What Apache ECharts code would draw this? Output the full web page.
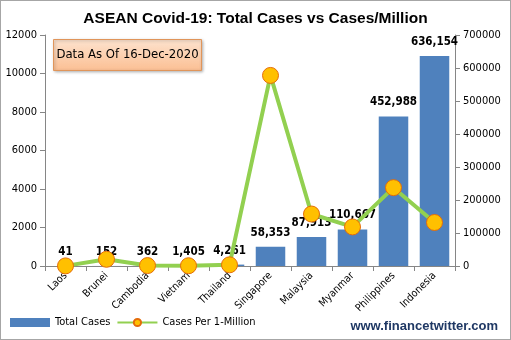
<!DOCTYPE html>
<html><head><meta charset="utf-8">
<script src="https://cdn.jsdelivr.net/npm/echarts@6/dist/echarts.min.js"></script>
<style>html,body{margin:0;padding:0;background:#fff}#c{width:509px;height:338px;border:1px solid #a6a6a6}</style>
</head><body><div id="c"></div>
<script>
const categories = ['Laos','Brunei','Cambodia','Vietnam','Thailand','Singapore','Malaysia','Myanmar','Philippines','Indonesia'];
const totalCases = [41,152,362,1405,4261,58353,87913,110667,452988,636154];
const casesPerMillion = [6,348,22,14,61,9900,2700,2030,4070,2260];
const leftTicks = [0,2000,4000,6000,8000,10000,12000];
const rightTicks = [0,100000,200000,300000,400000,500000,600000,700000];

const F = '"Liberation Sans Narrow","DejaVu Sans Condensed","Liberation Sans",Arial,sans-serif';
const chart = echarts.init(document.getElementById('c'));
const axisCommon = {
  axisLine:{show:true,lineStyle:{color:'#868686'}},
  axisTick:{show:true,length:5,lineStyle:{color:'#868686'}},
  splitLine:{show:false},
  axisLabel:{color:'#000',fontFamily:F,fontSize:11,formatter:v=>String(v)}
};
chart.setOption({
  animation:false,
  title:{text:'ASEAN Covid-19: Total Cases vs Cases/Million',left:'center',top:5,
    textStyle:{fontFamily:'"Liberation Sans",Arial,sans-serif',fontWeight:'bold',fontSize:15.5,color:'#000'}},
  grid:{left:44,right:55,top:34,bottom:73},
  legend:{left:4,bottom:6,itemGap:6,itemWidth:40,itemHeight:9,
    textStyle:{fontFamily:F,fontSize:11,color:'#000'},
    data:[{name:'Total Cases',icon:'rect'},{name:'Cases Per 1-Million'}]},
  xAxis:{type:'category',data:categories,
    axisLine:{lineStyle:{color:'#868686'}},
    axisTick:{show:true,length:5,lineStyle:{color:'#868686'}},
    axisLabel:{interval:0,rotate:45,color:'#000',fontFamily:F,fontSize:10.5,margin:8}},
  yAxis:[
    Object.assign({type:'value',min:leftTicks[0],max:leftTicks[leftTicks.length-1],interval:2000,position:'left'},axisCommon),
    Object.assign({type:'value',min:rightTicks[0],max:rightTicks[rightTicks.length-1],interval:100000,position:'right'},axisCommon)
  ],
  series:[
    {name:'Total Cases',type:'bar',yAxisIndex:1,data:totalCases,barWidth:'72%',
      itemStyle:{color:'#4f81bd'},z:2,
      label:{show:true,position:'top',distance:8,fontFamily:F,fontWeight:'bold',fontSize:11.5,color:'#000',
        formatter:p=>p.value.toLocaleString('en-US')}},
    {name:'Cases Per 1-Million',type:'line',yAxisIndex:0,data:casesPerMillion,
      symbol:'circle',symbolSize:16,z:3,
      lineStyle:{color:'#92d050',width:4},
      itemStyle:{color:'#ffc000',borderColor:'#e46c0a',borderWidth:1}}
  ],
  graphic:[
    {type:'group',left:52,top:38,children:[
      {type:'rect',shape:{x:0,y:0,width:148,height:31},
        style:{fill:new echarts.graphic.LinearGradient(0,0,0,1,[{offset:0,color:'#fde3cf'},{offset:1,color:'#fbbf93'}]),
          stroke:'#e0955a',lineWidth:1,shadowBlur:3,shadowColor:'rgba(0,0,0,0.3)',shadowOffsetX:1,shadowOffsetY:1}},
      {type:'text',style:{x:74,y:15.5,text:'Data As Of 16-Dec-2020',align:'center',verticalAlign:'middle',
        font:'13px '+F,fill:'#000'}}
    ]},
    {type:'text',right:12,bottom:6,style:{text:'www.financetwitter.com',
      font:'bold 13px "Liberation Sans",Arial,sans-serif',fill:'#1f3864'}}
  ]
});
</script></body></html>
